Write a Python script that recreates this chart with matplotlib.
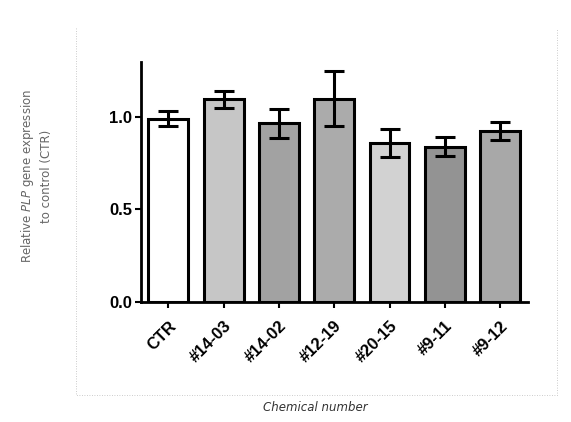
import matplotlib.pyplot as plt
from matplotlib.lines import Line2D

plt.rcParams['font.family'] = ['Liberation Sans', 'DejaVu Sans']

categories = ['CTR', '#14-03', '#14-02', '#12-19', '#20-15', '#9-11', '#9-12']
values = [0.99, 1.095, 0.965, 1.10, 0.86, 0.84, 0.925]
errors = [0.04, 0.045, 0.08, 0.15, 0.075, 0.05, 0.05]
colors = ['#ffffff', '#c6c6c6', '#a2a2a2', '#ababab', '#d2d2d2', '#939393', '#a8a8a8']

fig = plt.figure(figsize=(5.71, 4.22), dpi=100)
ax = fig.add_axes([0.2464, 0.285, 0.678, 0.569])

x = range(len(categories))
ax.bar(x, values, width=0.72, color=colors, edgecolor='black', linewidth=2.2, zorder=2)
ax.errorbar(x, values, yerr=errors, fmt='none', ecolor='black', elinewidth=2.2,
            capsize=7, capthick=2.2, zorder=3)

ax.set_xlim(-0.5, 6.5)
ax.set_ylim(0, 1.3)
ax.set_yticks([0.0, 0.5, 1.0])
ax.set_yticklabels(['0.0', '0.5', '1.0'], fontsize=12, fontweight='bold')
ax.set_xticks(list(x))
ax.set_xticklabels(categories, rotation=45, ha='right', rotation_mode='anchor',
                   fontsize=12, fontweight='bold')
for s in ['top', 'right']:
    ax.spines[s].set_visible(False)
for s in ['left', 'bottom']:
    ax.spines[s].set_linewidth(2)
ax.tick_params(axis='both', width=1.5, length=4)
ax.tick_params(axis='x', pad=8)
ax.tick_params(axis='y', pad=2)

fig.text(0.063, 0.582, 'Relative $\\it{PLP}$ gene expression\nto control (CTR)',
         rotation=90, ha='center', va='center', fontsize=8.5, color='#666666',
         linespacing=1.4, family='DejaVu Sans')
fig.text(0.552, 0.035, 'Chemical number', ha='center', va='center',
         fontsize=8.5, style='italic', color='#333333', family='DejaVu Sans')

# faint dotted frame of the original panel
W, H = 571, 422
fx = [75.7 / W, 75.7 / W, 556.7 / W, 556.7 / W]
fy = [1 - 28 / H, 1 - 394.5 / H, 1 - 394.5 / H, 1 - 28 / H]
fig.add_artist(Line2D(fx, fy, transform=fig.transFigure, color='#bbbbbb',
                      linestyle=(0, (1, 2)), linewidth=0.6))

fig.savefig('out.png', dpi=100)
